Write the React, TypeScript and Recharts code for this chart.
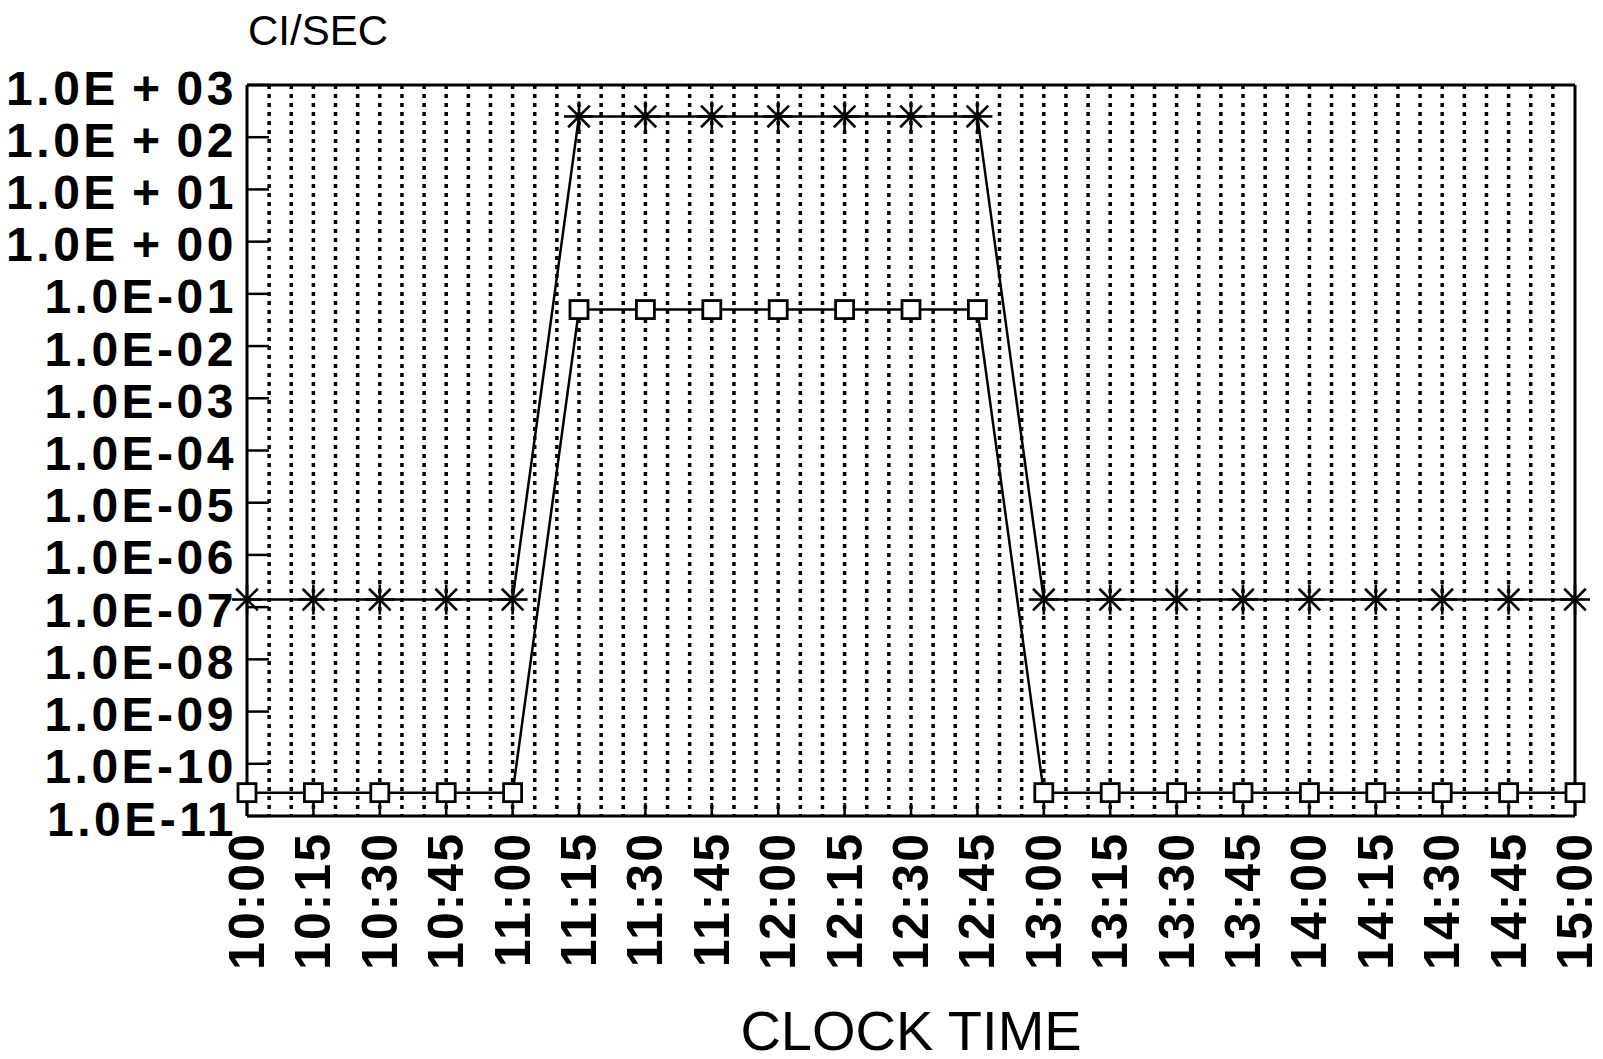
import { LineChart, Line, XAxis, YAxis, CartesianGrid, ReferenceLine } from 'recharts'

const times = [
  '10:00', '10:15', '10:30', '10:45', '11:00', '11:15', '11:30', '11:45', '12:00', '12:15', '12:30',
  '12:45', '13:00', '13:15', '13:30', '13:45', '14:00', '14:15', '14:30', '14:45', '15:00',
]

// asterisk markers
const starSeries = [
  1.4e-7, 1.4e-7, 1.4e-7, 1.4e-7, 1.4e-7,
  250, 250, 250, 250, 250, 250, 250,
  1.4e-7, 1.4e-7, 1.4e-7, 1.4e-7, 1.4e-7, 1.4e-7, 1.4e-7, 1.4e-7, 1.4e-7,
]

// square markers
const squareSeries = [
  2.8e-11, 2.8e-11, 2.8e-11, 2.8e-11, 2.8e-11,
  0.05, 0.05, 0.05, 0.05, 0.05, 0.05, 0.05,
  2.8e-11, 2.8e-11, 2.8e-11, 2.8e-11, 2.8e-11, 2.8e-11, 2.8e-11, 2.8e-11, 2.8e-11,
]

const yTicks = [1e3, 1e2, 1e1, 1e0, 1e-1, 1e-2, 1e-3, 1e-4, 1e-5, 1e-6, 1e-7, 1e-8, 1e-9, 1e-10, 1e-11]
const yTickLabels = [
  '1.0E\u2009+\u200903', '1.0E\u2009+\u200902', '1.0E\u2009+\u200901', '1.0E\u2009+\u200900',
  '1.0E-01', '1.0E-02', '1.0E-03', '1.0E-04', '1.0E-05', '1.0E-06', '1.0E-07', '1.0E-08',
  '1.0E-09', '1.0E-10', '1.0E-11',
]

const data = times.map((t, i) => ({ time: t, star: starSeries[i], square: squareSeries[i] }))

const FONT = '"Liberation Sans", Arial, Helvetica, sans-serif'

function YTick(props: any) {
  const { x, y, payload } = props
  const idx = yTicks.findIndex(v => Math.abs(Math.log10(v) - Math.log10(payload.value)) < 1e-6)
  return (
    <g>
      <line x1={x} x2={x + 22} y1={y} y2={y} stroke="#000" strokeWidth={2.5} />
      <text
        x={x - 10}
        y={y + 3}
        textAnchor="end"
        dominantBaseline="central"
        fontFamily={FONT}
        fontWeight="bold"
        fontSize={48}
        letterSpacing={3.5}
        fill="#000"
      >
        {idx >= 0 ? yTickLabels[idx] : ''}
      </text>
    </g>
  )
}

function XTick(props: any) {
  const { x, y, payload } = props
  const ty = y + 16
  return (
    <g>
      <line x1={x} x2={x} y1={y - 13} y2={y} stroke="#000" strokeWidth={2.5} />
      <text
        x={x}
        y={ty}
        transform={`rotate(-90, ${x}, ${ty})`}
        textAnchor="end"
        dominantBaseline="central"
        fontFamily={FONT}
        fontWeight="bold"
        fontSize={50}
        letterSpacing={2}
        fill="#000"
      >
        {payload.value}
      </text>
    </g>
  )
}

function StarDot(props: any) {
  const { cx, cy, index } = props
  if (cx == null || cy == null) return <g key={`s${index}`} />
  const r = 15
  const d = r * 0.72
  return (
    <g key={`s${index}`} stroke="#000" strokeWidth={2.6}>
      <line x1={cx - r} x2={cx + r} y1={cy} y2={cy} />
      <line x1={cx} x2={cx} y1={cy - r} y2={cy + r} />
      <line x1={cx - d} x2={cx + d} y1={cy - d} y2={cy + d} />
      <line x1={cx - d} x2={cx + d} y1={cy + d} y2={cy - d} />
    </g>
  )
}

function SquareDot(props: any) {
  const { cx, cy, index } = props
  if (cx == null || cy == null) return <g key={`q${index}`} />
  const s = 18
  return (
    <rect
      key={`q${index}`}
      x={cx - s / 2}
      y={cy - s / 2}
      width={s}
      height={s}
      fill="#fff"
      stroke="#000"
      strokeWidth={2.8}
    />
  )
}

export default function App() {
  return (
    <div style={{ position: 'absolute', left: 0, top: 0, width: 1603, height: 1059, background: '#fff' }}>
      <LineChart width={1603} height={1059} data={data} margin={{ top: 85, right: 28, left: 0, bottom: 0 }}>
        <CartesianGrid
          horizontal={false}
          stroke="#000"
          strokeWidth={3.5}
          strokeDasharray="4 5"
          verticalCoordinatesGenerator={({ offset }: any) => {
            const coords: number[] = []
            for (let i = 1; i < 60; i++) coords.push(offset.left + (offset.width * i) / 60)
            return coords
          }}
        />
        <XAxis
          dataKey="time"
          interval={0}
          height={243}
          tickSize={0}
          tickMargin={0}
          tickLine={false}
          tick={<XTick />}
          axisLine={{ stroke: '#000', strokeWidth: 3 }}
        />
        <YAxis
          scale="log"
          type="number"
          domain={[1e-11, 1e3]}
          ticks={yTicks}
          interval={0}
          allowDataOverflow
          width={247}
          tickSize={0}
          tickMargin={0}
          tickLine={false}
          tick={<YTick />}
          axisLine={{ stroke: '#000', strokeWidth: 3 }}
        />
        <ReferenceLine y={1e3} stroke="#000" strokeWidth={3} />
        <ReferenceLine x="15:00" stroke="#000" strokeWidth={3} />
        <Line
          type="linear"
          dataKey="square"
          stroke="#000"
          strokeWidth={2.5}
          dot={<SquareDot />}
          activeDot={false}
          isAnimationActive={false}
        />
        <Line
          type="linear"
          dataKey="star"
          stroke="#000"
          strokeWidth={2.5}
          dot={<StarDot />}
          activeDot={false}
          isAnimationActive={false}
        />
      </LineChart>
      <div
        style={{
          position: 'absolute',
          left: 248,
          top: 8,
          fontFamily: FONT,
          fontSize: 42,
          lineHeight: '46px',
          color: '#000',
        }}
      >
        CI/SEC
      </div>
      <div
        style={{
          position: 'absolute',
          left: 247,
          width: 1328,
          top: 1000,
          textAlign: 'center',
          fontFamily: FONT,
          fontSize: 56,
          lineHeight: '62px',
          color: '#000',
        }}
      >
        CLOCK TIME
      </div>
    </div>
  )
}
